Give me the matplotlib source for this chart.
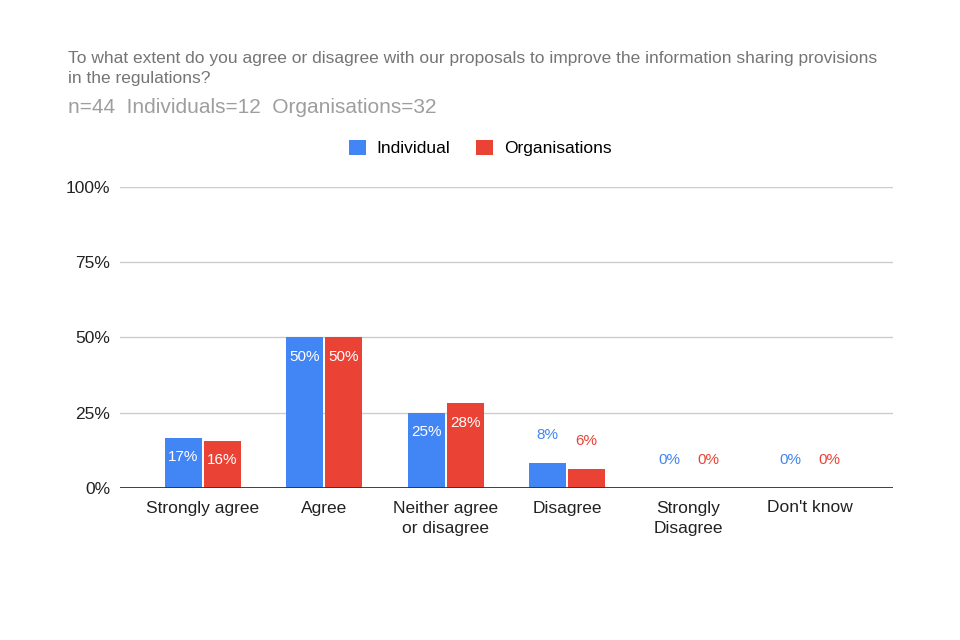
import numpy as np
import matplotlib
matplotlib.use('Agg')
from matplotlib import pyplot as plt
from matplotlib.patches import Patch

categories = ['Strongly agree', 'Agree', 'Neither agree\nor disagree', 'Disagree',
              'Strongly\nDisagree', "Don't know"]
individual = [16.7, 50.0, 25.0, 8.3, 0.0, 0.0]
organisations = [15.6, 50.0, 28.1, 6.25, 0.0, 0.0]
series_names = ['Individual', 'Organisations']
colors = ['#4285F4', '#EA4335']
yticks = [0, 25, 50, 75, 100]

title = ('To what extent do you agree or disagree with our proposals to improve the information sharing provisions\n'
         'in the regulations?')
subtitle = 'n=44  Individuals=12  Organisations=32'

plt.rcParams['font.family'] = ['Liberation Sans', 'DejaVu Sans']

fig = plt.figure(figsize=(9.6, 6.4), dpi=100)
ax = fig.add_axes([0.125, 0.2375, 0.805, 0.4705])

x = np.arange(len(categories))
w = 0.305
gap = 0.015
for vals, off, col in [(individual, -(w + gap) / 2, colors[0]), (organisations, (w + gap) / 2, colors[1])]:
    bars = ax.bar(x + off, vals, width=w, color=col, zorder=3)
    for xi, v in zip(x + off, vals):
        lab = '%d%%' % round(v)
        if v >= 12:
            ax.annotate(lab, (xi, v), xytext=(0, -14), textcoords='offset points',
                        ha='center', va='center', color='white', fontsize=11, zorder=4)
        else:
            ax.annotate(lab, (xi, v), xytext=(0, 20), textcoords='offset points',
                        ha='center', va='center', color=col, fontsize=11, zorder=4)

ax.set_xlim(-0.683, len(categories) - 1 + 0.683)
ax.set_ylim(0, 100)
ax.set_yticks(yticks)
ax.set_yticklabels(['%d%%' % t for t in yticks], fontsize=12.5, color='#222222')
ax.set_xticks(x)
ax.set_xticklabels(categories, fontsize=12.5, color='#222222', linespacing=1.45)
ax.tick_params(length=0)
ax.tick_params(axis='x', pad=9)
ax.tick_params(axis='y', pad=7)
ax.grid(axis='y', color='#cccccc', linewidth=1, zorder=0)
ax.axhline(0, color='#333333', linewidth=1.3, zorder=5)
for s in ax.spines.values():
    s.set_visible(False)

fig.text(68 / 960, 1 - 51 / 640, title, fontsize=12.5, color='#757575', va='top', ha='left', linespacing=1.45)
fig.text(68 / 960, 1 - 98 / 640, subtitle, fontsize=15, color='#9e9e9e', va='top', ha='left')

handles = [Patch(facecolor=c, edgecolor='none') for c in colors]
fig.legend(handles, series_names, loc='center', bbox_to_anchor=(480 / 960, 1 - 148 / 640), ncol=2,
           frameon=False, fontsize=12.5, handlelength=1.0, handleheight=1.0, columnspacing=1.5,
           handletextpad=0.6)

fig.savefig('out.png', dpi=100, facecolor='white')
